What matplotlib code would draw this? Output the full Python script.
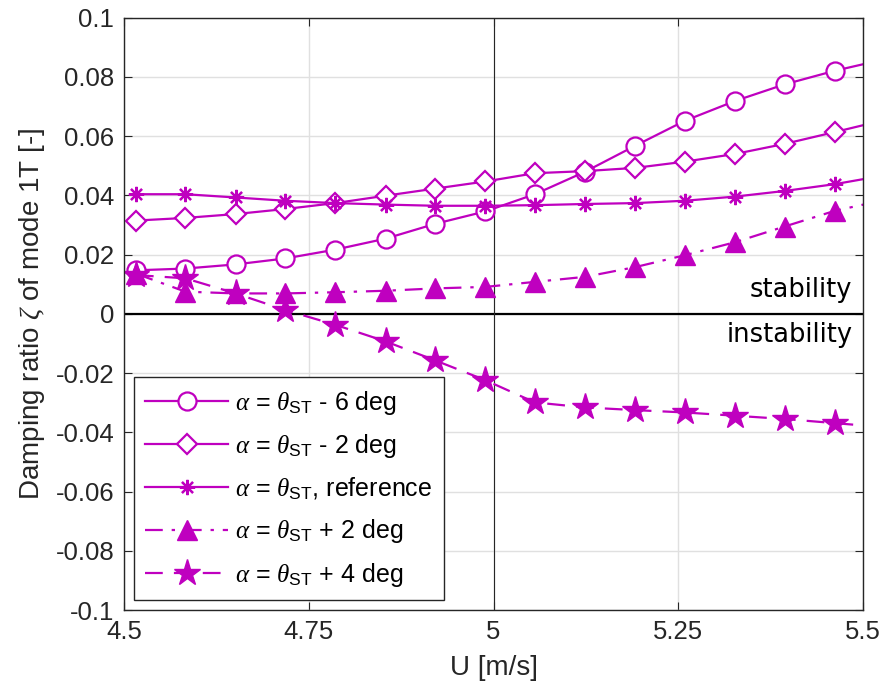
import matplotlib
matplotlib.use("Agg")
import matplotlib.pyplot as plt

plt.rcParams['font.family'] = ['Liberation Sans', 'DejaVu Sans']
plt.rcParams['mathtext.fontset'] = 'custom'
plt.rcParams['mathtext.rm'] = 'Liberation Sans'
plt.rcParams['mathtext.it'] = 'Liberation Serif:italic'

# wind speed U [m/s]
u = [4.516, 4.583, 4.651, 4.718, 4.786, 4.854, 4.921, 4.989,
     5.056, 5.124, 5.192, 5.259, 5.327, 5.394, 5.462, 5.530]

# damping ratio for each pitch offset
zeta_m6 = [0.0147, 0.0153, 0.0167, 0.0187, 0.0217, 0.0254, 0.0304, 0.0346,
           0.0404, 0.0480, 0.0568, 0.0652, 0.0719, 0.0775, 0.0821, 0.0860]
zeta_m2 = [0.0315, 0.0324, 0.0337, 0.0354, 0.0374, 0.0399, 0.0423, 0.0447,
           0.0475, 0.0482, 0.0493, 0.0514, 0.0540, 0.0574, 0.0614, 0.0655]
zeta_ref = [0.0404, 0.0404, 0.0393, 0.0382, 0.0374, 0.0369, 0.0365, 0.0365,
            0.0367, 0.0371, 0.0374, 0.0382, 0.0396, 0.0415, 0.0438, 0.0468]
zeta_p2 = [0.0136, 0.0075, 0.0069, 0.0069, 0.0073, 0.0078, 0.0086, 0.0091,
           0.0108, 0.0125, 0.0158, 0.0198, 0.0242, 0.0295, 0.0348, 0.0385]
zeta_p4 = [0.0131, 0.0120, 0.0069, 0.0013, -0.0037, -0.0093, -0.0157, -0.0224,
           -0.0299, -0.0316, -0.0325, -0.0333, -0.0344, -0.0355, -0.0369, -0.0383]

labels = [r'$\alpha$ = $\theta_{\mathrm{ST}}$ - 6 deg',
          r'$\alpha$ = $\theta_{\mathrm{ST}}$ - 2 deg',
          r'$\alpha$ = $\theta_{\mathrm{ST}}$, reference',
          r'$\alpha$ = $\theta_{\mathrm{ST}}$ + 2 deg',
          r'$\alpha$ = $\theta_{\mathrm{ST}}$ + 4 deg']

col = '#BF00BF'

fig = plt.figure(figsize=(8.86, 6.95), dpi=100)
ax = fig.add_axes([0.14, 0.1223, 0.834, 0.8522])

ax.plot(u, zeta_m6, '-', color=col, lw=1.6, marker='o', ms=13,
        mfc='white', mec=col, mew=1.6, label=labels[0])
ax.plot(u, zeta_m2, '-', color=col, lw=1.6, marker='D', ms=10,
        mfc='white', mec=col, mew=1.6, label=labels[1])
ax.plot(u, zeta_ref, '-', color=col, lw=1.6, marker=(8, 2, 0), ms=11,
        mec=col, mew=1.6, label=labels[2])
ax.plot(u, zeta_p2, color=col, lw=1.6, ls=(0, (8, 4, 1.5, 4)), marker='^',
        ms=15, mfc=col, mec=col, label=labels[3])
ax.plot(u, zeta_p4, color=col, lw=1.6, ls=(0, (8, 5)), marker='*',
        ms=20, mfc=col, mec=col, label=labels[4])

ax.axhline(0, color='black', lw=1.6, zorder=1.5)
ax.axvline(5, color='#262626', lw=0.8, zorder=1.5)

ax.text(5.486, 0.0082, 'stability', ha='right', va='center',
        fontsize=18.5, family='DejaVu Sans')
ax.text(5.486, -0.0073, 'instability', ha='right', va='center',
        fontsize=18.5, family='DejaVu Sans')

ax.set_xlim(4.5, 5.5)
ax.set_ylim(-0.1, 0.1)
ax.set_xticks([4.5, 4.75, 5, 5.25, 5.5])
ax.set_xticklabels(['4.5', '4.75', '5', '5.25', '5.5'])
ax.set_yticks([-0.1, -0.08, -0.06, -0.04, -0.02, 0, 0.02, 0.04, 0.06, 0.08, 0.1])
ax.set_yticklabels(['-0.1', '-0.08', '-0.06', '-0.04', '-0.02', '0',
                    '0.02', '0.04', '0.06', '0.08', '0.1'])
ax.grid(True, color='#E0E0E0', lw=1.0)
ax.set_axisbelow(True)
ax.tick_params(direction='in', top=True, right=True, labelsize=18.5,
               colors='#262626', length=6, pad=7)
for s in ax.spines.values():
    s.set_color('#262626')
    s.set_linewidth(1.0)

ax.set_xlabel('U [m/s]', fontsize=20, color='#262626', labelpad=8)
ax.set_ylabel(r'Damping ratio $\zeta$ of mode 1T [-]', fontsize=20,
              color='#262626', labelpad=6)

leg = ax.legend(loc='lower left', fontsize=18, handlelength=3.3,
                handletextpad=0.3, labelspacing=0.62, borderaxespad=0.4,
                borderpad=0.45, fancybox=False, framealpha=1,
                edgecolor='#262626')
leg.get_frame().set_linewidth(1.0)

fig.savefig('out.png', dpi=100)
